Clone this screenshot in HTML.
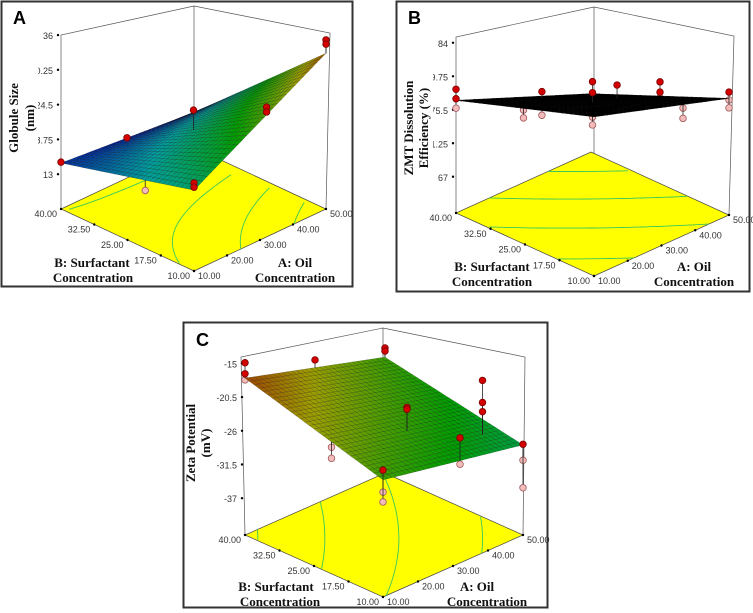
<!DOCTYPE html>
<html><head><meta charset="utf-8"><style>
html,body{margin:0;padding:0;background:#fff;}
svg{display:block;}
.tk{font-family:"Liberation Sans",sans-serif;font-size:9px;fill:#333;}
.ttl{font-family:"Liberation Serif",serif;font-size:13px;font-weight:bold;fill:#111;}
.let{font-family:"Liberation Sans",sans-serif;font-size:18px;font-weight:bold;fill:#000;}
</style></head><body>
<svg id="fig" width="753" height="613" viewBox="0 0 753 613" xmlns="http://www.w3.org/2000/svg">
<rect x="0" y="0" width="753" height="613" fill="#fff"/>
<defs>
<clipPath id="clipA"><rect x="38" y="0" width="320" height="290"/></clipPath>
<clipPath id="clipB"><rect x="433" y="0" width="320" height="290"/></clipPath>
<clipPath id="clipC"><rect x="185" y="322" width="362" height="286"/></clipPath>
</defs>
<!-- panel borders -->
<rect x="1.5" y="1.5" width="351" height="285" fill="none" stroke="#333" stroke-width="2"/>
<rect x="396.5" y="1.5" width="353" height="290" fill="none" stroke="#333" stroke-width="2"/>
<rect x="183.5" y="322.5" width="364" height="285" fill="none" stroke="#333" stroke-width="2"/>
<text class="let" x="13" y="24">A</text>
<text class="let" x="408" y="24">B</text>
<text class="let" x="196" y="346">C</text>
<!-- box frames -->
<g stroke="#555" stroke-width="0.7" fill="none">
<polyline points="61,209 61,35 194,6 330,33 326,209"/><line x1="194" y1="6" x2="194" y2="147"/></g>
<g stroke="#555" stroke-width="0.7" fill="none">
<polyline points="456,213 456,37 594,7 734,36 729,215"/><line x1="594" y1="7" x2="594" y2="165"/></g>
<g stroke="#555" stroke-width="0.7" fill="none">
<polyline points="245,535 241,357 383,328 525,357 523,535"/><line x1="383" y1="328" x2="383" y2="487"/></g>
<!-- axis titles -->
<g>
<text class="ttl" transform="translate(18,118) rotate(-90)" text-anchor="middle">Globule Size</text>
<text class="ttl" transform="translate(34,118) rotate(-90)" text-anchor="middle">(nm)</text></g>
<g>
<text class="ttl" transform="translate(413,128) rotate(-90)" text-anchor="middle">ZMT Dissolution</text>
<text class="ttl" transform="translate(428,128) rotate(-90)" text-anchor="middle">Efficiency (%)</text></g>
<g>
<text class="ttl" transform="translate(195,443) rotate(-90)" text-anchor="middle">Zeta Potential</text>
<text class="ttl" transform="translate(210,443) rotate(-90)" text-anchor="middle">(mV)</text></g>
<g text-anchor="middle">
<text class="ttl" x="92" y="267">B: Surfactant</text>
<text class="ttl" x="93" y="282">Concentration</text>
<text class="ttl" x="295" y="267">A: Oil</text>
<text class="ttl" x="295" y="282">Concentration</text>
<text class="ttl" x="492" y="271">B: Surfactant</text>
<text class="ttl" x="492" y="286">Concentration</text>
<text class="ttl" x="694" y="271">A: Oil</text>
<text class="ttl" x="694" y="286">Concentration</text>
<text class="ttl" x="276" y="591">B: Surfactant</text>
<text class="ttl" x="280" y="606">Concentration</text>
<text class="ttl" x="477" y="591">A: Oil</text>
<text class="ttl" x="487" y="606">Concentration</text>
</g>
<g id="plots"></g>
</svg>
<script>
// ---- data ----
const aTicks = [10, 20, 30, 40, 50];
const aTickLabels = ['10.00','20.00','30.00','40.00','50.00'];
const bTicks = [10, 17.5, 25, 32.5, 40];
const bTickLabels = ['10.00','17.50','25.00','32.50','40.00'];
// Panel A: globule size
const zTicksA = [13, 18.75, 24.5, 30.25, 36];
const zLabelsA = ['13','18.75','24.5','30.25','36'];
const surfA = [20.6, 33.0, 14.85, 12.9]; // (10,10),(50,10),(10,40),(50,40)
const ptsA_a = [10, 30, 10, 30, 32, 32, 50, 50, 10, 10];
const ptsA_b = [40, 40, 21, 25, 10, 10, 10, 10, 10, 10];
const ptsA_z = [15.0, 13.9, 16.8, 23.6, 28.7, 27.9, 35.2, 34.5, 21.8, 21.1];
const levelsA = [15, 20, 25, 30];
// Panel B: dissolution efficiency
const zTicksB = [67, 71.25, 75.5, 79.75, 84];
const zLabelsB = ['67','71.25','75.5','79.75','84'];
const surfB = [82.6, 77.2, 76.7, 69.8];
const ptsB_a = [10, 10, 10, 30, 30, 30, 30, 30, 30, 30, 30, 30, 30, 40, 40, 50, 50, 50, 50, 50, 50, 50, 50];
const ptsB_b = [40, 40, 40, 40, 40, 36, 36, 36, 25, 25, 25, 25, 25, 27, 27, 25, 25, 25, 20, 20, 10, 10, 10];
const ptsB_z = [78.1, 76.9, 75.7, 71.6, 70.6, 75.0, 73.6, 72.0, 79.2, 77.8, 76.5, 74.7, 73.7, 76.3, 73.5, 75.3, 74.0, 73.3, 73.3, 72.0, 78.0, 77.0, 76.0];
const levelsB = [72, 75, 78, 81];
// Panel C: zeta potential
const zTicksC = [-37, -31.5, -26, -20.5, -15];
const zLabelsC = ['-37','-31.5','-26','-20.5','-15'];
const surfC = [-23.9, -28.3, -17.4, -24.1];
const ptsC_a = [10, 10, 10, 30, 50, 50, 15, 15, 15, 30, 30, 45, 45, 45, 32, 32, 50, 50, 50, 10, 10, 10];
const ptsC_b = [40, 40, 40, 40, 40, 40, 25, 25, 25, 20, 20, 15, 15, 15, 10, 10, 10, 10, 10, 10, 10, 10];
const ptsC_z = [-14.9, -16.7, -17.7, -19.5, -22.6, -23.1, -21.8, -24.9, -26.7, -20.5, -20.8, -18.2, -21.8, -23.3, -22.6, -26.9, -28.2, -30.8, -35.3, -22.3, -25.9, -27.5];
const levelsC = [-27, -24, -21, -18];

// ---- layout (geometry only) ----
const panels = [
 {id:'a', clip:'clipA', f:[194,271], r:[326,209], l:[61,209], zf:7.25, k:6.05, surf:surfA, cmin:13, cmax:36, black:false,
  zt:zTicksA, zl:zLabelsA, pa:ptsA_a, pb:ptsA_b, pz:ptsA_z, lev:levelsA},
 {id:'b', clip:'clipB', f:[594,276], r:[729,215], l:[456,213], zf:62.4, k:7.88, surf:surfB, cmin:67, cmax:84, black:true,
  zt:zTicksB, zl:zLabelsB, pa:ptsB_a, pb:ptsB_b, pz:ptsB_z, lev:levelsB},
 {id:'c', clip:'clipC', f:[383,597], r:[523,535], l:[245,535], zf:-43, k:6.13, surf:surfC, cmin:-37, cmax:-15, black:false,
  zt:zTicksC, zl:zLabelsC, pa:ptsC_a, pb:ptsC_b, pz:ptsC_z, lev:levelsC}
];
const NS='http://www.w3.org/2000/svg';
function mk(tag, attrs, parent){const e=document.createElementNS(NS,tag);for(const k in attrs)e.setAttribute(k,attrs[k]);parent.appendChild(e);return e;}
function proj(P,a,b,z){
  const ua=(a-10)/40, ub=(b-10)/30;
  const x=P.f[0]+ua*(P.r[0]-P.f[0])+ub*(P.l[0]-P.f[0]);
  const y=P.f[1]+ua*(P.r[1]-P.f[1])+ub*(P.l[1]-P.f[1])-(z-P.zf)*P.k;
  return [x,y];
}
function surfZ(P,a,b){const u=(a-10)/40,v=(b-10)/30,s=P.surf;
  return (1-u)*(1-v)*s[0]+u*(1-v)*s[1]+(1-u)*v*s[2]+u*v*s[3];}
function cmap(t){t=Math.max(0,Math.min(1,t));
  const st=[[0,[0,0,255]],[0.25,[0,255,255]],[0.5,[0,255,0]],[0.75,[255,255,0]],[1,[255,0,0]]];
  for(let i=0;i<st.length-1;i++){if(t<=st[i+1][0]){const f=(t-st[i][0])/(st[i+1][0]-st[i][0]);
    const c=st[i][1].map((v,j)=>Math.round((v+(st[i+1][1][j]-v)*f)*0.62));return 'rgb('+c.join(',')+')';}}
  return 'rgb(158,0,0)';}
const root=document.getElementById('plots');
panels.forEach(P=>{
  const g=mk('g',{},root);
  
  
  // floor
  const c00=proj(P,10,10,P.zf),c10=proj(P,50,10,P.zf),c11=proj(P,50,40,P.zf),c01=proj(P,10,40,P.zf);
  const floor=mk('polygon',{points:[c00,c10,c11,c01].map(p=>p.join(',')).join(' '),fill:'#ffff00',stroke:'#444','stroke-width':0.7},g);
  
  
  // contours
  P.lev.forEach(L=>{
    let pts=[];
    for(let i=0;i<=60;i++){const b=10+30*i/60;const z0=surfZ(P,10,b),z1=surfZ(P,50,b);
      if(z1===z0)continue;const u=(L-z0)/(z1-z0);
      if(u>=0&&u<=1){pts.push(proj(P,10+40*u,b,P.zf));}}
    if(pts.length>1){const pl=mk('polyline',{points:pts.map(p=>p[0].toFixed(1)+','+p[1].toFixed(1)).join(' '),fill:'none',stroke:'#3cc85a','stroke-width':0.9},g);
      
      }
  });
  // floor axis ticks
  aTicks.forEach((a,i)=>{const p=proj(P,a,10,P.zf);
    mk('circle',{cx:p[0],cy:p[1],r:1.2,fill:'#000'},g);
    const t=mk('text',{class:'tk',x:p[0]+4,y:p[1]+8},g);t.textContent=aTickLabels[i];
    
    });
  bTicks.forEach((b,i)=>{const p=proj(P,10,b,P.zf);
    mk('circle',{cx:p[0],cy:p[1],r:1.2,fill:'#000'},g);
    const t=mk('text',{class:'tk',x:p[0]-4,y:p[1]+8,'text-anchor':'end'},g);t.textContent=bTickLabels[i];
    
    });
  // z ticks on left vertical
  const zg=mk('g',{'clip-path':'url(#'+P.clip+')'},g);
  P.zt.forEach((z,i)=>{const p=proj(P,10,40,z);
    mk('circle',{cx:p[0]-3,cy:p[1],r:1.2,fill:'#000'},zg);
    const t=mk('text',{class:'tk',x:p[0]-8,y:p[1]+4,'text-anchor':'end'},zg);t.textContent=P.zl[i];
    
    });
  // points below surface first (pale), then surface, then above (red)
  const N=30,quads=[];
  for(let i=0;i<N;i++)for(let j=0;j<N;j++){
    const a0=10+40*i/N,a1=10+40*(i+1)/N,b0=10+30*j/N,b1=10+30*(j+1)/N;
    quads.push({a0,a1,b0,b1,d:(i+j)});}
  quads.sort((p,q)=>q.d-p.d);
  const below=[],above=[];
  P.pa.forEach((a,i)=>{(P.pz[i]<surfZ(P,a,P.pb[i])?below:above).push(i);});
  function drawPt(i,red){
    const a=P.pa[i],b=P.pb[i],z=P.pz[i];const p=proj(P,a,b,z),s=proj(P,a,b,surfZ(P,a,b));
    const ln=mk('line',{x1:p[0],y1:p[1],x2:s[0],y2:s[1],stroke:'#222','stroke-width':0.8},g);
    
    
    const c=mk('circle',{cx:p[0],cy:p[1],r:3.3,fill:red?'#d40000':'#f3bcbc',stroke:red?'#700':'#a05858','stroke-width':0.8},g);
    
    }
  below.forEach(i=>drawPt(i,false));
  const sg=mk('g',{},g);
  
  
  quads.forEach(q=>{
    const z=surfZ(P,(q.a0+q.a1)/2,(q.b0+q.b1)/2);
    const pts=[proj(P,q.a0,q.b0,surfZ(P,q.a0,q.b0)),proj(P,q.a1,q.b0,surfZ(P,q.a1,q.b0)),proj(P,q.a1,q.b1,surfZ(P,q.a1,q.b1)),proj(P,q.a0,q.b1,surfZ(P,q.a0,q.b1))];
    const col=P.black?'#000':cmap((z-P.cmin)/(P.cmax-P.cmin));
    mk('polygon',{points:pts.map(p=>p[0].toFixed(1)+','+p[1].toFixed(1)).join(' '),fill:col,stroke:P.black?'#000':'rgba(0,0,0,0.45)','stroke-width':0.35},sg);
  });
  above.forEach(i=>drawPt(i,true));
});
</script>
</body></html>
